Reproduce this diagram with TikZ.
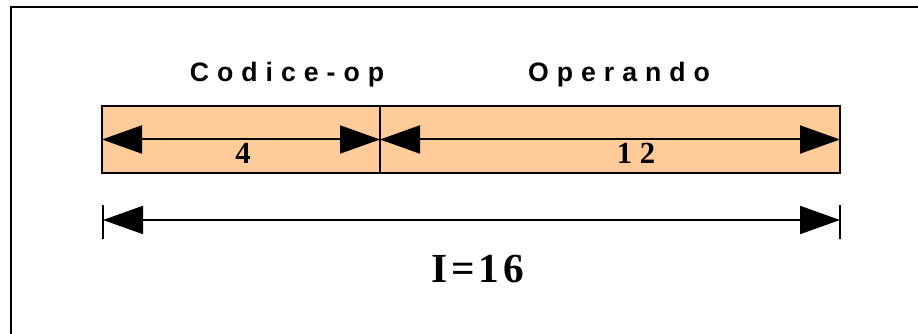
\documentclass[tikz,border=0pt]{standalone}
\usepackage{fontspec}
\setmainfont{Liberation Serif}
\newfontfamily\lblfont[LetterSpace=30]{Liberation Sans}
\newfontfamily\numfont[LetterSpace=25]{Liberation Serif}
\newfontfamily\bignumfont[LetterSpace=9]{Liberation Serif}
\usetikzlibrary{arrows.meta}
\definecolor{peach}{HTML}{FFCC99}
\begin{document}
\begin{tikzpicture}[x=0.75pt,y=-0.75pt,
  field/.style={draw=black, fill=peach, line width=1.5pt, outer sep=0pt, inner sep=0pt, minimum height=50.25pt},
  dimline/.style={line width=1.5pt, {Triangle[length=30pt,width=21pt]}-{Triangle[length=30pt,width=21pt]}},
  tick/.style={line width=1.5pt},
  title/.style={font=\lblfont\bfseries\fontsize{20}{22}\selectfont, anchor=base, inner sep=0pt},
  num/.style={font=\numfont\bfseries\fontsize{23}{25}\selectfont, anchor=base, inner sep=0pt},
  bignum/.style={font=\bignumfont\bfseries\fontsize{31}{33}\selectfont, anchor=base, inner sep=0pt}]
\useasboundingbox (0,0) rectangle (918,334);
\fill[white] (0,0) rectangle (918,334);
% outer frame
\draw[line width=1.5pt] (11,340) -- (11,7) -- (925,7);
% fields
\node[field, minimum width=208.5pt] (f1) at (241,139.5) {};
\node[field, minimum width=345pt] (f2) at (610,139.5) {};
% field dimension arrows
\draw[dimline] (f1.west) -- (f1.east);
\draw[dimline] (f2.west) -- (f2.east);
% titles
\node[title] (t1) at (287,82) {Codice-op};
\node[title] (t2) at (619,82) {Operando};
% numbers
\node[num] (n1) at (243,164) {4};
\node[num] (n2) at (636,164) {12};
% total dimension
\coordinate (d1) at (103,220);
\coordinate (d2) at (840,220);
\coordinate (d1a) at (103,205);
\coordinate (d1b) at (103,239);
\coordinate (d2a) at (840,205);
\coordinate (d2b) at (840,239);
\draw[tick] (d1a) -- (d1b);
\draw[tick] (d2a) -- (d2b);
\draw[dimline] (d1) -- (d2);
\node[bignum] (tot) at (478,283) {I=16};
\end{tikzpicture}
\end{document}
